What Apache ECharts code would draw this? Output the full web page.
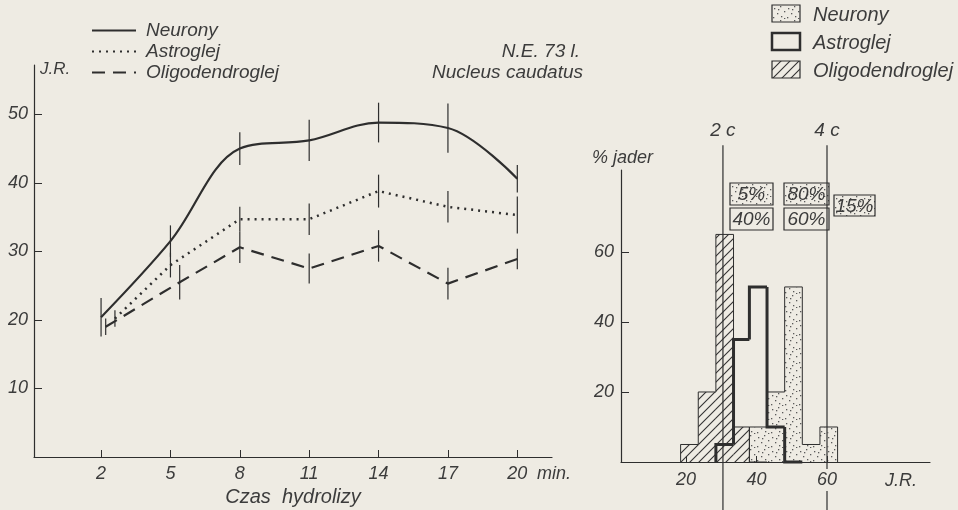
<!DOCTYPE html>
<html>
<head>
<meta charset="utf-8">
<script src="https://cdn.jsdelivr.net/npm/echarts@6/dist/echarts.min.js"></script>
<style>
  html, body { margin: 0; padding: 0; background: #eeebe3; }
  #main { width: 958px; height: 510px; }
</style>
</head>
<body>
<div id="main"></div>
<script>
// left panel: J.R. against hydrolysis time (min)
const timeTicks = [2, 5, 8, 11, 14, 17, 20];
const jrTicks = [10, 20, 30, 40, 50];

const neuronyX = [2, 5, 8, 11, 14, 17, 20];
const neuronyY = [20.4, 31.5, 45, 46.2, 48.8, 48, 40.6];
const neuronyErr = [2.8, 2.3, 2.4, 3, 2.9, 3.6, 2];

const astroX = [2.6, 5, 8, 11, 14, 17, 20];
const astroY = [20.2, 28, 34.7, 34.7, 38.8, 36.5, 35.3];
const astroErr = [1.2, 1.8, 1.8, 2.3, 2.4, 2.3, 2.7];

const oligoX = [2.2, 5.4, 8, 11, 14, 17, 20];
const oligoY = [19, 25.5, 30.6, 27.5, 30.8, 25.3, 28.9];
const oligoErr = [1.2, 2.5, 2.3, 2.2, 2.3, 2.3, 1.5];

// right panel: % jader per J.R. class
const binEdges = [18.5, 23.5, 28.5, 33.5, 38, 43, 48, 53, 58, 63];
const neuronyHist = [0, 0, 0, 0, 10, 20, 50, 5, 10];
const astroHist = [0, 0, 5, 35, 50, 10, 0, 0, 0];
const oligoHist = [5, 20, 65, 10, 0, 0, 0, 0, 0];
const histXTicks = [20, 40, 60];
const histYTicks = [20, 40, 60];
const ploidyX = [30.5, 60];
const ploidyNames = ['2 c', '4 c'];

const BG = '#eeebe3';
const INK = '#2e2e2e';
const TXT = '#3c3c3c';
const FONT = 'Liberation Sans';

function dotPattern() {
    const c = document.createElement('canvas');
    c.width = 14; c.height = 14;
    const g = c.getContext('2d');
    g.fillStyle = '#5a5a5a';
    [[2, 3], [8, 1], [12, 6], [5, 8], [9, 11], [1, 12], [6, 4], [12, 13]].forEach(p => {
        g.fillRect(p[0], p[1], 1.3, 1.3);
    });
    return { image: c, repeat: 'repeat' };
}

function hatchPattern() {
    const s = 9;
    const c = document.createElement('canvas');
    c.width = s; c.height = s;
    const g = c.getContext('2d');
    g.strokeStyle = '#333';
    g.lineWidth = 1.1;
    g.beginPath();
    g.moveTo(0, s); g.lineTo(s, 0);
    g.moveTo(-1, 1); g.lineTo(1, -1);
    g.moveTo(s - 1, s + 1); g.lineTo(s + 1, s - 1);
    g.stroke();
    return { image: c, repeat: 'repeat' };
}

const dots = dotPattern();
const hatch = hatchPattern();

function pairs(xs, ys) {
    return xs.map((x, i) => [x, ys[i]]);
}

function errData(xs, ys, es) {
    return xs.map((x, i) => [x, ys[i], es[i]]);
}

function errRender(params, api) {
    const x = api.value(0), y = api.value(1), e = api.value(2);
    const a = api.coord([x, y - e]);
    const b = api.coord([x, y + e]);
    return {
        type: 'line',
        shape: { x1: a[0], y1: a[1], x2: b[0], y2: b[1] },
        style: { stroke: INK, lineWidth: 1.2 }
    };
}

function histData(values) {
    return values.map((v, i) => [binEdges[i], binEdges[i + 1], v]);
}

// one bin: fill + step outline (left side from previous height, top, last right side)
function histRender(values, fill, lineWidth) {
    return function (params, api) {
        const i = params.dataIndex;
        const x0 = api.value(0), x1 = api.value(1), h = api.value(2);
        const prev = i > 0 ? values[i - 1] : 0;
        const children = [];
        if (fill && h > 0) {
            const p0 = api.coord([x0, h]);
            const p1 = api.coord([x1, 0]);
            children.push({
                type: 'rect',
                shape: { x: p0[0], y: p0[1], width: p1[0] - p0[0], height: p1[1] - p0[1] },
                style: { fill: fill }
            });
        }
        if (h > 0 || prev > 0) {
            const pts = [api.coord([x0, prev]), api.coord([x0, h]), api.coord([x1, h])];
            if (i === values.length - 1) pts.push(api.coord([x1, 0]));
            children.push({
                type: 'polyline',
                shape: { points: pts },
                style: { stroke: INK, lineWidth: lineWidth, fill: null, lineJoin: 'miter' }
            });
        }
        return { type: 'group', children: children };
    };
}

function ploidyRender(params, api) {
    const x = api.value(0);
    const top = api.coord([x, 90.5]);
    const bottom = api.coord([x, -14]);
    return {
        type: 'group',
        children: [
            {
                type: 'line',
                shape: { x1: top[0], y1: top[1], x2: bottom[0], y2: bottom[1] },
                style: { stroke: INK, lineWidth: 1.2 }
            },
            {
                type: 'text',
                style: {
                    text: ploidyNames[params.dataIndex],
                    x: top[0], y: top[1] - 14,
                    align: 'center', verticalAlign: 'middle',
                    font: 'italic 19px ' + FONT, fill: TXT
                }
            }
        ]
    };
}

function pctBox(x, y, w, h, text, fill) {
    return {
        type: 'group',
        x: x, y: y,
        z: 10,
        children: [
            { type: 'rect', shape: { x: 0, y: 0, width: w, height: h }, style: { fill: fill || BG, stroke: INK, lineWidth: 1.2 } },
            { type: 'text', style: { text: text, x: w / 2, y: h / 2 + 1, align: 'center', verticalAlign: 'middle', font: 'italic 19px ' + FONT, fill: TXT } }
        ]
    };
}

function legendBox(y, label, fill, lineWidth) {
    return {
        type: 'group',
        x: 772, y: y,
        children: [
            { type: 'rect', shape: { x: 0, y: 0, width: 28, height: 17 }, style: { fill: fill || 'transparent', stroke: INK, lineWidth: lineWidth } },
            { type: 'text', style: { text: label, x: 41, y: 10, verticalAlign: 'middle', font: 'italic 20px ' + FONT, fill: TXT } }
        ]
    };
}

const labelStyle = { fontFamily: FONT, fontStyle: 'italic', fontSize: 18, color: TXT };
const axisLine = { show: true, onZero: false, lineStyle: { color: INK, width: 1.2 } };

const chart = echarts.init(document.getElementById('main'));

const option = {
    backgroundColor: BG,
    animation: false,
    grid: [
        { left: 34, top: 65, width: 518, height: 392, outerBoundsMode: 'none', containLabel: false },
        { left: 621, top: 170, width: 309, height: 292, outerBoundsMode: 'none', containLabel: false }
    ],
    legend: {
        data: ['Neurony', 'Astroglej', 'Oligodendroglej'],
        orient: 'vertical',
        left: 86, top: 16,
        itemWidth: 44, itemHeight: 14, itemGap: 2,
        selectedMode: false,
        itemStyle: { opacity: 0 },
        textStyle: { ...labelStyle, fontSize: 19, padding: [0, 0, 0, 5] }
    },
    xAxis: [
        {
            type: 'value', gridIndex: 0, min: -0.9, max: 21.5,
            axisLine: axisLine,
            axisTick: { show: true, inside: true, length: 7, customValues: timeTicks, lineStyle: { color: INK } },
            axisLabel: { ...labelStyle, margin: 8, customValues: timeTicks },
            splitLine: { show: false },
            name: 'Czas  hydrolizy', nameLocation: 'middle', nameGap: 29,
            nameTextStyle: { ...labelStyle, fontSize: 20 }
        },
        {
            type: 'value', gridIndex: 1, min: 1.6, max: 89.2, z: 3,
            axisLine: axisLine,
            axisTick: { show: true, inside: true, length: 6, customValues: histXTicks, lineStyle: { color: INK } },
            axisLabel: { ...labelStyle, margin: 7, customValues: histXTicks, backgroundColor: BG, padding: [2, 2] },
            splitLine: { show: false }
        }
    ],
    yAxis: [
        {
            type: 'value', gridIndex: 0, min: 0, max: 57.2,
            axisLine: axisLine,
            axisTick: { show: true, inside: true, length: 8, customValues: jrTicks, lineStyle: { color: INK } },
            axisLabel: { ...labelStyle, margin: 6, customValues: jrTicks },
            splitLine: { show: false }
        },
        {
            type: 'value', gridIndex: 1, min: 0, max: 83.4,
            axisLine: axisLine,
            axisTick: { show: true, inside: true, length: 8, customValues: histYTicks, lineStyle: { color: INK } },
            axisLabel: { ...labelStyle, margin: 7, customValues: histYTicks },
            splitLine: { show: false }
        }
    ],
    series: [
        {
            name: 'Neurony', type: 'line', data: pairs(neuronyX, neuronyY),
            smooth: 0.35, symbol: 'none',
            lineStyle: { color: INK, width: 2.2, type: 'solid' },
            itemStyle: { color: INK }
        },
        {
            name: 'Astroglej', type: 'line', data: pairs(astroX, astroY),
            symbol: 'none',
            lineStyle: { color: INK, width: 2.5, type: [2, 5] },
            itemStyle: { color: INK }
        },
        {
            name: 'Oligodendroglej', type: 'line', data: pairs(oligoX, oligoY),
            symbol: 'none',
            lineStyle: { color: INK, width: 2.2, type: [13, 8] },
            itemStyle: { color: INK }
        },
        { name: 'err N', type: 'custom', renderItem: errRender, data: errData(neuronyX, neuronyY, neuronyErr) },
        { name: 'err A', type: 'custom', renderItem: errRender, data: errData(astroX, astroY, astroErr) },
        { name: 'err O', type: 'custom', renderItem: errRender, data: errData(oligoX, oligoY, oligoErr) },
        {
            name: 'hist N', type: 'custom', xAxisIndex: 1, yAxisIndex: 1,
            renderItem: histRender(neuronyHist, dots, 1), data: histData(neuronyHist),
            encode: { x: [0, 1], y: 2 }
        },
        {
            name: 'hist O', type: 'custom', xAxisIndex: 1, yAxisIndex: 1,
            renderItem: histRender(oligoHist, hatch, 1), data: histData(oligoHist),
            encode: { x: [0, 1], y: 2 }
        },
        {
            name: 'hist A', type: 'custom', xAxisIndex: 1, yAxisIndex: 1,
            renderItem: histRender(astroHist, null, 3), data: histData(astroHist),
            encode: { x: [0, 1], y: 2 }
        },
        {
            name: 'ploidy', type: 'custom', xAxisIndex: 1, yAxisIndex: 1, clip: false, z: 1,
            renderItem: ploidyRender, data: ploidyX.map(x => [x, 0]),
            encode: { x: 0, y: 1 }
        }
    ],
    graphic: [
        { type: 'text', left: 40, top: 61, style: { text: 'J.R.', font: 'italic 17px ' + FONT, fill: TXT } },
        { type: 'text', x: 580, y: 52, style: { text: 'N.E. 73 l.', align: 'right', verticalAlign: 'middle', font: 'italic 19px ' + FONT, fill: TXT } },
        { type: 'text', x: 583, y: 73, style: { text: 'Nucleus caudatus', align: 'right', verticalAlign: 'middle', font: 'italic 19px ' + FONT, fill: TXT } },
        { type: 'text', x: 537, y: 474, style: { text: 'min.', verticalAlign: 'middle', font: 'italic 18px ' + FONT, fill: TXT } },
        { type: 'text', x: 592, y: 158, style: { text: '% jader', verticalAlign: 'middle', font: 'italic 18px ' + FONT, fill: TXT } },
        { type: 'text', x: 885, y: 481, style: { text: 'J.R.', verticalAlign: 'middle', font: 'italic 18px ' + FONT, fill: TXT } },
        pctBox(730, 183, 43, 22, '5%', dots),
        pctBox(730, 208, 43, 22, '40%'),
        pctBox(784, 183, 45, 22, '80%', dots),
        pctBox(784, 208, 45, 22, '60%'),
        pctBox(834, 195, 41, 21, '15%', dots),
        legendBox(5, 'Neurony', dots, 1.2),
        legendBox(33, 'Astroglej', null, 2.5),
        legendBox(61, 'Oligodendroglej', hatch, 1.2)
    ]
};

chart.setOption(option);
</script>
</body>
</html>
